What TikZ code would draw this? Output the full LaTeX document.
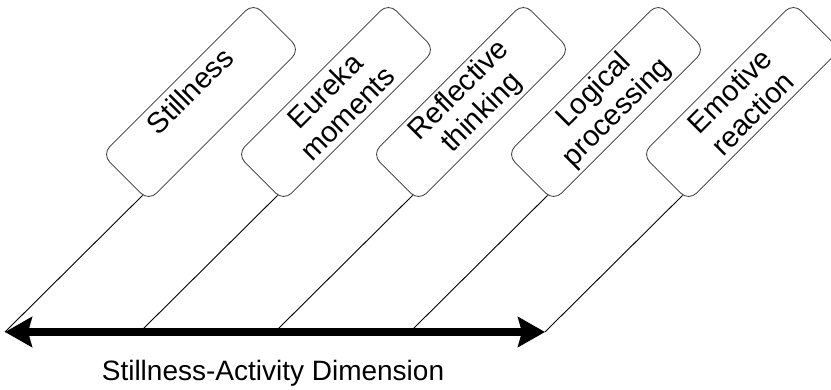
\documentclass[tikz,border=0pt]{standalone}
\usepackage{fontspec}
\setmainfont{Liberation Sans}
\usetikzlibrary{arrows.meta,calc}
\tikzset{
  stage/.style={draw=black!80, line width=0.8pt, rounded corners=11pt, rotate=45,
    minimum width=214pt, minimum height=66pt, inner sep=0pt, align=center,
    font=\fontsize{29}{32}\selectfont},
  spoke/.style={line width=0.9pt},
  axis/.style={line width=8pt, {Stealth[length=27pt,width=30pt,inset=4pt]}-{Stealth[length=27pt,width=30pt,inset=4pt]}}
}
\begin{document}
\begin{tikzpicture}[x=1pt,y=1pt]
	\useasboundingbox (0,0) rectangle (831,389);
	% boxes
	\node[stage] (still) at (201,287) {Stillness\\\mbox{}};
	\node[stage] (eureka) at (336,287) {Eureka\\moments};
	\node[stage] (reflect) at (471,287) {Reflective\\thinking};
	\node[stage] (logic) at (606,287) {Logical\\processing};
	\node[stage] (emote) at (741,287) {Emotive\\reaction};
	% feet on the dimension
	\coordinate (left) at (5,57);
	\coordinate (f1) at (140,57);
	\coordinate (f2) at (275,57);
	\coordinate (f3) at (410,57);
	\coordinate (right) at (545,57);
	\draw[spoke] (left) -- ($(still.south west)!0.13!(still.north west)$);
	\draw[spoke] (f1) -- ($(eureka.south west)!0.13!(eureka.north west)$);
	\draw[spoke] (f2) -- ($(reflect.south west)!0.13!(reflect.north west)$);
	\draw[spoke] (f3) -- ($(logic.south west)!0.13!(logic.north west)$);
	\draw[spoke] (right) -- ($(emote.south west)!0.13!(emote.north west)$);
	\draw[axis] (left) -- (right);
	\node[anchor=base, font=\fontsize{28}{34}\selectfont] (dim) at (273,9) {Stillness-Activity Dimension};
\end{tikzpicture}
\end{document}
